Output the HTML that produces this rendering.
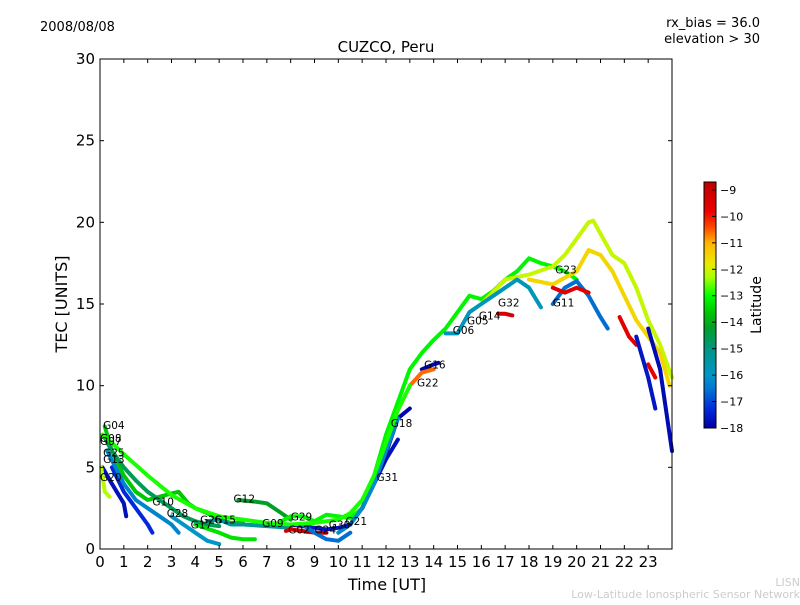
<!DOCTYPE html>
<html><head><meta charset="utf-8"><style>
body{margin:0;background:#fff;}
svg text{font-family:"DejaVu Sans","Liberation Sans",sans-serif;}
</style></head><body>
<svg id="chart" width="800" height="600" xmlns="http://www.w3.org/2000/svg">
<rect width="800" height="600" fill="#fff"/>
<text x="40" y="31" font-size="13">2008/08/08</text>
<text x="760" y="27" font-size="13" text-anchor="end">rx_bias = 36.0</text>
<text x="760" y="43" font-size="13" text-anchor="end">elevation &gt; 30</text>
<text x="386" y="52" font-size="15" text-anchor="middle">CUZCO, Peru</text>
<g id="marks"></g>
<g id="labels"></g>
<rect x="100" y="59" width="572" height="490" fill="none" stroke="#000" stroke-width="1"/>
<g id="axes"></g>
<text x="387" y="590" font-size="16" text-anchor="middle">Time [UT]</text>
<text transform="translate(67,304) rotate(-90)" font-size="16" text-anchor="middle">TEC [UNITS]</text>
<g id="cbar"></g>
<text transform="translate(761,305) rotate(-90)" font-size="14" text-anchor="middle">Latitude</text>
<text x="800" y="586" font-size="11" fill="#ccc" text-anchor="end">LISN</text>
<text x="800" y="598" font-size="11" fill="#ccc" text-anchor="end">Low-Latitude Ionospheric Sensor Network</text>
</svg>
<script>
const xTicks=[0,1,2,3,4,5,6,7,8,9,10,11,12,13,14,15,16,17,18,19,20,21,22,23];
const yTicks=[0,5,10,15,20,25,30];
const cbTicks=[-9,-10,-11,-12,-13,-14,-15,-16,-17,-18];
const trackLat=[-13.6,-14.2,-13.1,-12.1,-11.5,-16.6,-9.5,-9.3,-9.6,-9.8,-17.6,-17.8,-15.8,-17.9,-10.6,-17.7,-17.9,-16.2,-17.7,-17.3,-16.3,-16,-13.3,-15.3,-9.3,-17.6,-16.6,-12.2,-14.6,-12.9];
const trackT=[
[0.2,0.5,1,1.5,2,2.5,3,3.3,3.7,4,4.5,5,5.5,6],
[5.8,6.5,7,7.5,8],
[7.5,8,8.5,9,9.5,10,10.5,11,11.5,12,12.5,13,13.5,14,14.5,15,15.5,16,16.5,17,17.5,18,18.5,19,19.5,20],
[16,17,18,19,19.5,20,20.5,20.7,21,21.5,22,22.5,23,23.5,24],
[18,19,20,20.5,21,21.5,22,22.5,23,23.5,23.9],
[19,19.5,20,20.5,21,21.3],
[19,19.5,20,20.5],
[16.7,17,17.3],
[21.8,22.2,22.5],
[23,23.3],
[22.5,23,23.3],
[23,23.5,24],
[14.5,15,15.5,16,16.5,17,17.5,18,18.5],
[13.5,14,14.2],
[13,13.5,14],
[11,11.5,12,12.5],
[11,11.8,12.5,13],
[10,10.5,11,11.5,12,12.5],
[0.1,0.5,1,1.1],
[0.5,1,1.5,2,2.2],
[0.3,1,1.5,2,2.5,3,3.3],
[3,3.5,4,4.5,5],
[4,5,5.5,6,6.5],
[4.5,5,5.5,6,7,8],
[7.8,8,8.5,9,9.5],
[8,9,9.5,10,10.5],
[8.5,9,9.5,10,10.5],
[0.05,0.2,0.4],
[0.2,0.5,1,1.5,2,2.5,3,3.5,4,4.5,5],
[0.1,0.5,1,2,3,4,5,6,7,8,9,10,10.5,11,11.5,12,12.5,13]
];
const trackV=[
[7.5,6,4.5,3.5,3,3.2,3.4,3.5,2.8,2.5,2.2,1.8,1.6,1.6],
[3,2.9,2.8,2.3,1.8],
[1.6,2,2,1.7,2.1,2,1.9,2.5,4.5,7,9,11,12,12.8,13.5,14.5,15.5,15.3,15.8,16.5,17,17.8,17.5,17.3,17,16.5],
[15,16.5,16.8,17.3,18,19,20,20.1,19.3,18,17.5,16,14,12.5,10.5],
[16.5,16.2,17,18.3,18,17,15.5,14,13,12,10],
[15,16,16.4,15.5,14.2,13.5],
[16,15.7,16,15.7],
[14.4,14.4,14.3],
[14.2,13,12.5],
[11.3,10.5],
[13,10.5,8.6],
[13.5,11,6],
[13.2,13.2,14.5,15,15.5,16,16.5,16,14.8],
[11,11.3,11.4],
[10,10.8,11],
[2.5,4,5.5,6.7],
[2.5,5,8,8.6],
[1,1.5,2.5,4,6,8],
[5,4,2.8,2],
[5,3.5,2.5,1.5,1],
[6,4,3,2.5,2,1.5,1],
[2,1.5,1,0.5,0.3],
[1.5,1,0.7,0.6,0.6],
[1.7,1.8,1.5,1.5,1.4,1.3],
[1.1,1.2,1.1,1,1],
[1.5,1.3,1.2,1.3,1.5],
[1.5,1,0.6,0.5,1],
[5,3.5,3.2],
[6.8,6,5,4.2,3.5,3,2.5,2,1.7,1.5,1.4],
[7,6.5,5.8,4.5,3.3,2.5,2,1.8,1.6,1.5,1.6,1.8,2.2,3,4.5,6.5,8.5,10]
];
const labelNames=["G04","G08","G07","G25","G13","G20","G10","G28","G17","G26","G15","G12","G09","G29","G02","G24","G30","G21","G31","G18","G22","G16","G06","G05","G14","G32","G11","G23"];
const labelT=[0.13,0,0,0.13,0.13,0,2.2,2.8,3.8,4.2,4.8,5.6,6.8,8.0,7.9,9.0,9.6,10.3,11.6,12.2,13.3,13.6,14.8,15.4,15.9,16.7,19.0,19.1];
const labelV=[7.6,6.8,6.6,5.9,5.5,4.4,2.9,2.2,1.5,1.8,1.8,3.1,1.6,2.0,1.2,1.2,1.5,1.7,4.4,7.7,10.2,11.3,13.4,14.0,14.3,15.1,15.1,17.1];
const NS="http://www.w3.org/2000/svg";
const X0=100,X1=672,Y0=549,Y1=59;
const xs=t=>X0+(t/24)*(X1-X0);
const ys=v=>Y0-(v/30)*(Y0-Y1);
const CB0=-18,CB1=-8.7,CBY0=428,CBY1=182;
const cbs=l=>CBY0-(l-CB0)/(CB1-CB0)*(CBY0-CBY1);
const stops=[[-18,[0,0,160]],[-17.3,[0,40,220]],[-16.5,[0,120,210]],[-16,[0,150,200]],[-15,[0,150,130]],[-14.2,[0,160,40]],[-13.6,[0,200,0]],[-13,[0,255,0]],[-12.3,[170,255,0]],[-11.8,[235,235,0]],[-11,[255,180,0]],[-10.4,[255,70,0]],[-9.8,[235,0,0]],[-8.7,[190,0,0]]];
function latColor(l){
 if(l<=stops[0][0])return `rgb(${stops[0][1]})`;
 for(let i=1;i<stops.length;i++){if(l<=stops[i][0]){const a=stops[i-1],b=stops[i],f=(l-a[0])/(b[0]-a[0]);
  return 'rgb('+a[1].map((c,k)=>Math.round(c+(b[1][k]-c)*f)).join(',')+')';}}
 return `rgb(${stops[stops.length-1][1]})`;}
function mk(tag,attrs,parent){const e=document.createElementNS(NS,tag);for(const k in attrs)e.setAttribute(k,attrs[k]);parent.appendChild(e);return e;}
const marks=document.getElementById('marks');
trackT.forEach((ts,i)=>{
 const pts=ts.map((t,j)=>xs(t).toFixed(1)+','+ys(trackV[i][j]).toFixed(1)).join(' ');
 const p=mk('polyline',{points:pts,fill:'none',stroke:latColor(trackLat[i]),'stroke-width':4,'stroke-linejoin':'round','stroke-linecap':'round'},marks);
 
 
});
const lg=document.getElementById('labels');
labelNames.forEach((n,i)=>{
 const t=mk('text',{x:xs(labelT[i]).toFixed(1),y:(ys(labelV[i])+4).toFixed(1),'font-size':10.5},lg);
 t.textContent=n;
 
 
});
const ax=document.getElementById('axes');
xTicks.forEach(v=>{const x=xs(v);
 mk('line',{x1:x,x2:x,y1:Y0,y2:Y0-4,stroke:'#000'},ax);
 mk('line',{x1:x,x2:x,y1:Y1,y2:Y1+4,stroke:'#000'},ax);
 const t=mk('text',{x:x,y:567,'font-size':15,'text-anchor':'middle'},ax);t.textContent=v;
 
 
});
yTicks.forEach(v=>{const y=ys(v);
 mk('line',{x1:X0,x2:X0+4,y1:y,y2:y,stroke:'#000'},ax);
 mk('line',{x1:X1,x2:X1-4,y1:y,y2:y,stroke:'#000'},ax);
 const t=mk('text',{x:95,y:y+5,'font-size':15,'text-anchor':'end'},ax);t.textContent=v;
 
 
});
const cb=document.getElementById('cbar');
for(let y=CBY1;y<CBY0;y++){const l=CB0+(CBY0-y-0.5)/(CBY0-CBY1)*(CB1-CB0);
 mk('rect',{x:704,y:y,width:12,height:1.2,fill:latColor(l)},cb);}
const fr=mk('rect',{x:704,y:CBY1,width:12,height:CBY0-CBY1,fill:'none',stroke:'#000','stroke-width':1},cb);


cbTicks.forEach(v=>{const y=cbs(v);
 mk('line',{x1:712,x2:716,y1:y,y2:y,stroke:'#000'},cb);
 const t=mk('text',{x:720,y:y+4,'font-size':11},cb);t.textContent='\u2212'+Math.abs(v);
 
 
});
</script>
</body></html>
